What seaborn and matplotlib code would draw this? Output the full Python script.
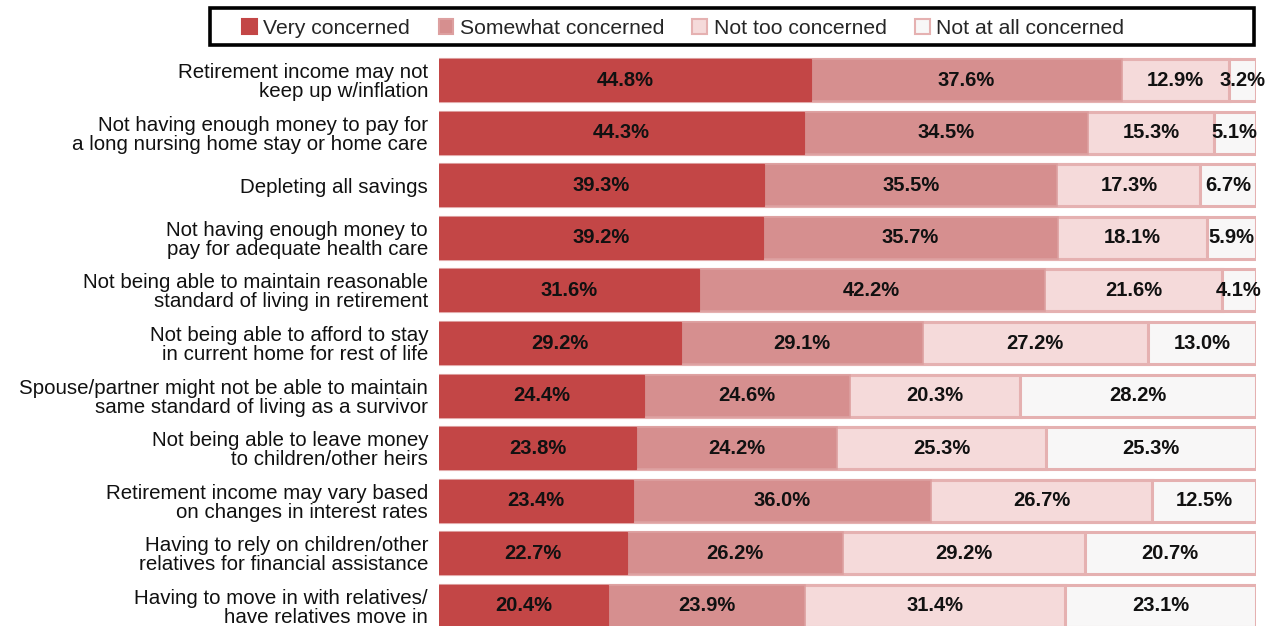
import numpy as np
import pandas as pd
import matplotlib
matplotlib.use("Agg")
import matplotlib.pyplot as plt
from matplotlib.patches import Patch, Rectangle
import seaborn as sns

categories = [
    "Retirement income may not\nkeep up w/inflation",
    "Not having enough money to pay for\na long nursing home stay or home care",
    "Depleting all savings",
    "Not having enough money to\npay for adequate health care",
    "Not being able to maintain reasonable\nstandard of living in retirement",
    "Not being able to afford to stay\nin current home for rest of life",
    "Spouse/partner might not be able to maintain\nsame standard of living as a survivor",
    "Not being able to leave money\nto children/other heirs",
    "Retirement income may vary based\non changes in interest rates",
    "Having to rely on children/other\nrelatives for financial assistance",
    "Having to move in with relatives/\nhave relatives move in",
]
very = [44.8, 44.3, 39.3, 39.2, 31.6, 29.2, 24.4, 23.8, 23.4, 22.7, 20.4]
somewhat = [37.6, 34.5, 35.5, 35.7, 42.2, 29.1, 24.6, 24.2, 36.0, 26.2, 23.9]
not_too = [12.9, 15.3, 17.3, 18.1, 21.6, 27.2, 20.3, 25.3, 26.7, 29.2, 31.4]
not_at_all = [3.2, 5.1, 6.7, 5.9, 4.1, 13.0, 28.2, 25.3, 12.5, 20.7, 23.1]

series_names = ["Very concerned", "Somewhat concerned", "Not too concerned", "Not at all concerned"]
fills = ["#C34646", "#D68F8F", "#F5DADA", "#F8F7F7"]
edges = ["#C34646", "#DDA0A0", "#E5B1B1", "#E5B1B1"]
edge_widths = [0.8, 1.2, 2.2, 2.2]

sns.set_theme(style="white")
plt.rcParams["font.family"] = ["Liberation Sans", "DejaVu Sans"]

values = np.array([very, somewhat, not_too, not_at_all])
# 100% stacked: each row scaled to its own total
shares = values / values.sum(axis=0) * 100
cum = np.cumsum(shares, axis=0)

fig = plt.figure(figsize=(12.88, 6.26), dpi=100)
ax = fig.add_axes([0.341, -0.010, 0.634, 0.924])

# Draw cumulative bars from the longest to the shortest so each segment shows
for i in range(3, -1, -1):
    df = pd.DataFrame({"cat": categories, "val": cum[i]})
    sns.barplot(data=df, x="val", y="cat", orient="h", ax=ax,
                color=fills[i], edgecolor=edges[i], linewidth=edge_widths[i],
                width=0.8, saturation=1)

for i in range(4):
    starts = cum[i] - shares[i]
    for j in range(len(categories)):
        ax.text(starts[j] + shares[i][j] / 2, j, f"{values[i][j]:.1f}%",
                ha="center", va="center", fontsize=14.5, fontweight="bold",
                color="#111111")

ax.set_xlim(0, 100)
ax.set_ylim(len(categories) - 0.5, -0.5)
ax.set_xlabel("")
ax.set_ylabel("")
ax.set_xticks([])
ax.tick_params(axis="y", length=0, pad=8, labelsize=14.8, labelcolor="#111111")
for lbl in ax.get_yticklabels():
    lbl.set_linespacing(1.0)
for s in ax.spines.values():
    s.set_visible(False)

handles = [Patch(facecolor=fills[k], edgecolor=edges[k], linewidth=1.5)
           for k in range(4)]
leg = fig.legend(handles, series_names, loc="center left",
                 bbox_to_anchor=(0.188, 0.955), ncol=4, fontsize=15.2,
                 frameon=False, handlelength=0.7, handleheight=0.7,
                 handletextpad=0.3, columnspacing=1.35,
                 borderpad=0, borderaxespad=0)
fig.add_artist(Rectangle((210 / 1288, 1 - 45 / 626), 1044 / 1288, 37 / 626,
                         transform=fig.transFigure, fill=False,
                         edgecolor="#000000", linewidth=2.6))

fig.savefig("out.png", dpi=100)
